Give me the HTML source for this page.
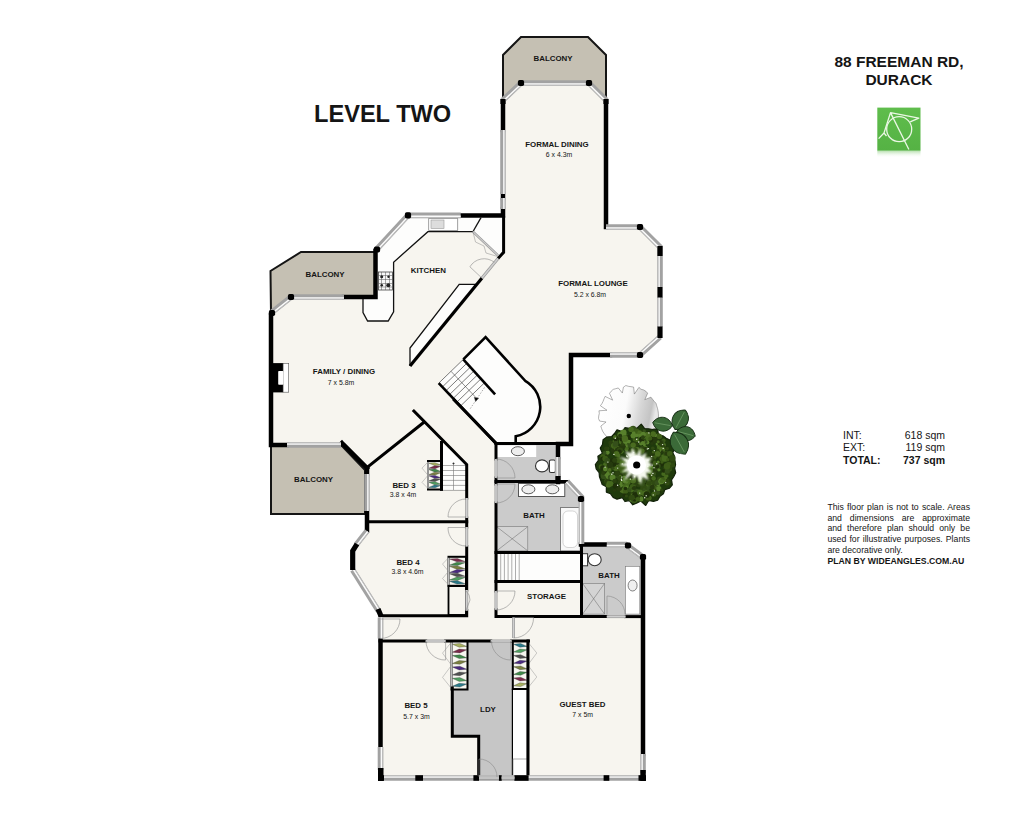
<!DOCTYPE html>
<html><head><meta charset="utf-8">
<style>
html,body{margin:0;padding:0;background:#fff;width:1024px;height:819px;overflow:hidden}
svg{position:absolute;left:0;top:0}
text{font-family:"Liberation Sans",sans-serif;fill:#151515}
.b{font-weight:bold}
</style></head><body>
<svg width="1024" height="819" viewBox="0 0 1024 819">
<polygon fill="#f7f5ef" points="503,100 521,83 589,83 606,100 606,227 640,227 660,247 660,337 640,355 571,355 571,444 558,444 558,482 567,482 581,497 581,544 626,544 643,557 643,778 380,778 380,615 356,570 356,546 367,530 367,468 342,444 271,444 271,313 291,297 375,297 375,250 408,215 503,215"/>
<g fill="#fdfdfc">
<polygon points="408,215.4 503.4,215.4 503.4,252.3 498,255.4 472.9,231.7 427.9,231.7 393.6,262.2 393.6,311.8 388.2,321 367.6,321 363,312.6 363,298.9 375.5,298.9 375.5,249.3"/>
<polygon points="459.2,284.4 476,284.4 410,366 410,348"/>
<path d="M463.3,359.4 L485.6,337.1 L525.2,380.8 A30,30 0 0 1 515.7,436.3 L515.7,443.5 L495.9,443.5 L438.7,383.2 Z"/>
<rect x="497" y="553" width="84" height="28"/>
<polygon points="441.5,442.5 466.7,464.5 466.7,490 441.5,490"/>
<rect x="497" y="553" width="26" height="28"/>
</g>
<g fill="#cbcbcb">
<rect x="496" y="444" width="62" height="38"/>
<polygon points="496,482 568,482 582,497 582,552 496,552"/>
<polygon points="581,544 626,544 643,557 643,615 581,615"/>
<polygon fill="#c6c6c6" points="452.3,641 512.4,641 512.4,777.3 478.7,777.3 478.7,736.2 452.3,736.2"/>
</g>
<g fill="#c5c0b3" stroke="#151515" stroke-width="2" stroke-linejoin="miter">
<polygon points="503,101 503,55 521,37 588,37 606,55 606,101 589,83 521,83"/>
<polygon points="271,313 270.5,271 301,252 375,252 375,297 291,297"/>
<polygon points="271,446 342,446 365,470 365,514 271,514"/>
</g>
<g stroke="#111" stroke-width="1.3" fill="none">
<polyline points="472.9,231.7 427.9,231.7 393.6,262.2 393.6,311.8 388.2,321 367.6,321 363,312.6 363,298.9"/>
<polyline points="472.9,231.7 481,217.6"/>
<polyline points="476,284.4 459.2,284.4 410,348 410,366"/>
</g>
<polyline points="472.9,231.7 498,255.4" stroke="#9a9a9a" stroke-width="2.5" fill="none"/><polyline points="472.9,231.7 498,255.4" stroke="#cfcfcf" stroke-width="1.1" fill="none"/>
<polyline points="473,232 475.5,242 484,246 486,253 497.6,256.5" stroke="#8a8a8a" stroke-width="0.5" fill="none"/>
<rect x="378.5" y="272" width="14" height="18" fill="#f8f8f8" stroke="#444" stroke-width="0.8"/>
<g stroke="#555" stroke-width="0.5"><line x1="381.5" y1="272" x2="381.5" y2="290"/><line x1="385.5" y1="272" x2="385.5" y2="290"/><line x1="389.5" y1="272" x2="389.5" y2="290"/><line x1="378.5" y1="275.5" x2="392.5" y2="275.5"/><line x1="378.5" y1="279.5" x2="392.5" y2="279.5"/><line x1="378.5" y1="283.5" x2="392.5" y2="283.5"/><line x1="378.5" y1="287" x2="392.5" y2="287"/></g>
<g fill="#222"><circle cx="381.7" cy="276.8" r="1.5"/><circle cx="388.5" cy="276.8" r="1.2"/><circle cx="381.7" cy="285.2" r="1.3"/><circle cx="388.3" cy="285.2" r="2"/></g>
<rect x="428.7" y="218.4" width="29" height="12" fill="#fff" stroke="#888" stroke-width="0.8"/>
<rect x="431" y="220" width="13" height="8.5" fill="#ddd" stroke="#999" stroke-width="0.6"/>
<g stroke="#555" stroke-width="0.6" fill="none">
<line x1="438.7" y1="383.2" x2="463.3" y2="359.4" stroke="#444" stroke-width="0.7"/>
<line x1="442.3" y1="387.0" x2="466.9" y2="363.2" stroke="#444" stroke-width="0.7"/>
<line x1="445.9" y1="390.8" x2="470.5" y2="367.0" stroke="#444" stroke-width="0.7"/>
<line x1="449.5" y1="394.6" x2="474.1" y2="370.8" stroke="#444" stroke-width="0.7"/>
<line x1="453.2" y1="398.4" x2="477.8" y2="374.6" stroke="#444" stroke-width="0.7"/>
<line x1="456.8" y1="402.2" x2="481.4" y2="378.4" stroke="#444" stroke-width="0.7"/>
<line x1="460.4" y1="406.1" x2="485.0" y2="382.3" stroke="#444" stroke-width="0.7"/>
<line x1="451.0" y1="371.3" x2="475.1" y2="396.7" stroke="#444"/>
<path d="M484.5,387.5 L470,409" stroke="#555" stroke-width="0.5" stroke-dasharray="1.5,1.5" fill="none"/>
<polygon points="474.3,397.2 478.6,398.2 475.6,401.5" fill="#000"/>
</g>
<g stroke="#333" stroke-width="0.8">
<rect x="496.6" y="445.3" width="39.6" height="11.7" fill="#fff" stroke="none"/>
<ellipse cx="517.9" cy="451.2" rx="6.5" ry="4.5" fill="#eee"/>
<ellipse cx="542" cy="465.9" rx="6.5" ry="6" fill="#fff" stroke-width="1.1"/>
<rect x="549.4" y="460" width="6" height="12.5" rx="1.5" fill="#fff" stroke-width="1.1"/>
<rect x="518.6" y="483.5" width="46.2" height="12.9" fill="#fff"/>
<ellipse cx="528.4" cy="489.3" rx="6.5" ry="4.5" fill="#eee"/>
<ellipse cx="552.3" cy="489.3" rx="6.5" ry="4.5" fill="#eee"/>
<rect x="560.4" y="507.6" width="19.8" height="43.3" fill="#f8f8f8" stroke="#666"/>
<rect x="563" y="511" width="14.5" height="36.5" rx="5" fill="#fff" stroke="#bbb" stroke-width="0.6"/>
<rect x="496.6" y="526.7" width="31.2" height="24.2" fill="#d4d4d4" stroke="#777" stroke-width="0.6"/>
<path d="M496.6,526.7 L527.8,550.9 M527.8,526.7 L496.6,550.9" stroke="#666" stroke-width="0.5"/>
<rect x="582" y="553.7" width="5.6" height="12.1" fill="#fff" stroke-width="1"/>
<ellipse cx="594.7" cy="559.7" rx="6.5" ry="6" fill="#fff" stroke-width="1.1"/>
<rect x="582.6" y="583.4" width="22" height="30.7" fill="#d4d4d4" stroke="#777" stroke-width="0.6"/>
<path d="M582.6,583.4 L604.6,614.1 M604.6,583.4 L582.6,614.1" stroke="#666" stroke-width="0.5"/>
<rect x="625.5" y="566.3" width="14.3" height="47.8" fill="#fff" stroke="#777" stroke-width="0.6"/>
<ellipse cx="632.6" cy="585.5" rx="4.5" ry="5.5" fill="#f0f0f0" stroke-width="0.6"/>
</g>
<g stroke="#777" stroke-width="0.6">
<line x1="497.0" y1="553.3" x2="497.0" y2="580.7"/>
<line x1="500.7" y1="553.3" x2="500.7" y2="580.7"/>
<line x1="504.4" y1="553.3" x2="504.4" y2="580.7"/>
<line x1="508.1" y1="553.3" x2="508.1" y2="580.7"/>
<line x1="511.8" y1="553.3" x2="511.8" y2="580.7"/>
<line x1="515.5" y1="553.3" x2="515.5" y2="580.7"/>
<line x1="519.2" y1="553.3" x2="519.2" y2="580.7"/>
</g>
<g stroke="#777" stroke-width="0.6">
<line x1="442.5" y1="465.5" x2="466" y2="465.5"/>
<line x1="442.5" y1="470.5" x2="466" y2="470.5"/>
<line x1="442.5" y1="475.5" x2="466" y2="475.5"/>
<line x1="442.5" y1="480.4" x2="466" y2="480.4"/>
<line x1="442.5" y1="485.4" x2="466" y2="485.4"/>
<line x1="442.5" y1="490.4" x2="466" y2="490.4"/>
<line x1="453.5" y1="463" x2="453.5" y2="490"/>
<circle cx="453.5" cy="463.5" r="0.8" fill="#000"/>
</g>
<rect x="428" y="461" width="13.5" height="28.5" fill="#f7f7f0"/><polygon points="428.5,464.1 434.8,462.7 441.0,464.1 434.8,465.5" fill="#a8b060" stroke="#333" stroke-width="0.3" transform="rotate(9 434.8 464.1)"/><polygon points="428.5,467.3 434.8,465.8 441.0,467.3 434.8,468.7" fill="#7a2a4a" stroke="#333" stroke-width="0.3" transform="rotate(-9 434.8 467.3)"/><polygon points="428.5,470.5 434.8,469.0 441.0,470.5 434.8,471.9" fill="#3f8a4a" stroke="#333" stroke-width="0.3" transform="rotate(9 434.8 470.5)"/><polygon points="428.5,473.7 434.8,472.2 441.0,473.7 434.8,475.1" fill="#7a8040" stroke="#333" stroke-width="0.3" transform="rotate(-9 434.8 473.7)"/><polygon points="428.5,476.8 434.8,475.4 441.0,476.8 434.8,478.3" fill="#4a2a80" stroke="#333" stroke-width="0.3" transform="rotate(9 434.8 476.8)"/><polygon points="428.5,480.0 434.8,478.6 441.0,480.0 434.8,481.5" fill="#505050" stroke="#333" stroke-width="0.3" transform="rotate(-9 434.8 480.0)"/><polygon points="428.5,483.2 434.8,481.8 441.0,483.2 434.8,484.7" fill="#50a060" stroke="#333" stroke-width="0.3" transform="rotate(9 434.8 483.2)"/><polygon points="428.5,486.4 434.8,485.0 441.0,486.4 434.8,487.8" fill="#2a7a8a" stroke="#333" stroke-width="0.3" transform="rotate(-9 434.8 486.4)"/><rect x="428" y="461" width="13.5" height="28.5" fill="none" stroke="#000" stroke-width="2"/><line x1="428" y1="462" x2="428" y2="488.5" stroke="#bbb" stroke-width="1.6"/>
<rect x="448.5" y="556.8" width="17.5" height="29" fill="#f7f7f0"/><polygon points="449.2,560.2 457.2,558.5 465.3,560.2 457.2,561.8" fill="#7a2a4a" stroke="#333" stroke-width="0.3" transform="rotate(9 457.2 560.2)"/><polygon points="449.2,563.9 457.2,562.2 465.3,563.9 457.2,565.5" fill="#3f8a4a" stroke="#333" stroke-width="0.3" transform="rotate(-9 457.2 563.9)"/><polygon points="449.2,567.6 457.2,565.9 465.3,567.6 457.2,569.3" fill="#7a8040" stroke="#333" stroke-width="0.3" transform="rotate(9 457.2 567.6)"/><polygon points="449.2,571.3 457.2,569.6 465.3,571.3 457.2,573.0" fill="#4a2a80" stroke="#333" stroke-width="0.3" transform="rotate(-9 457.2 571.3)"/><polygon points="449.2,575.0 457.2,573.3 465.3,575.0 457.2,576.7" fill="#505050" stroke="#333" stroke-width="0.3" transform="rotate(9 457.2 575.0)"/><polygon points="449.2,578.7 457.2,577.1 465.3,578.7 457.2,580.4" fill="#50a060" stroke="#333" stroke-width="0.3" transform="rotate(-9 457.2 578.7)"/><polygon points="449.2,582.4 457.2,580.8 465.3,582.4 457.2,584.1" fill="#2a7a8a" stroke="#333" stroke-width="0.3" transform="rotate(9 457.2 582.4)"/><rect x="448.5" y="556.8" width="17.5" height="29" fill="none" stroke="#000" stroke-width="2"/><line x1="448.5" y1="557.8" x2="448.5" y2="584.8" stroke="#bbb" stroke-width="1.6"/>
<rect x="451.5" y="641" width="16" height="48.5" fill="#f7f7f0"/><polygon points="452.1,645.3 459.5,643.4 466.9,645.3 459.5,647.2" fill="#a8b060" stroke="#333" stroke-width="0.3" transform="rotate(9 459.5 645.3)"/><polygon points="452.1,651.0 459.5,649.1 466.9,651.0 459.5,652.9" fill="#7a2a4a" stroke="#333" stroke-width="0.3" transform="rotate(-9 459.5 651.0)"/><polygon points="452.1,656.7 459.5,654.8 466.9,656.7 459.5,658.6" fill="#3f8a4a" stroke="#333" stroke-width="0.3" transform="rotate(9 459.5 656.7)"/><polygon points="452.1,662.4 459.5,660.5 466.9,662.4 459.5,664.3" fill="#7a8040" stroke="#333" stroke-width="0.3" transform="rotate(-9 459.5 662.4)"/><polygon points="452.1,668.1 459.5,666.2 466.9,668.1 459.5,670.0" fill="#4a2a80" stroke="#333" stroke-width="0.3" transform="rotate(9 459.5 668.1)"/><polygon points="452.1,673.8 459.5,671.9 466.9,673.8 459.5,675.7" fill="#505050" stroke="#333" stroke-width="0.3" transform="rotate(-9 459.5 673.8)"/><polygon points="452.1,679.5 459.5,677.6 466.9,679.5 459.5,681.4" fill="#50a060" stroke="#333" stroke-width="0.3" transform="rotate(9 459.5 679.5)"/><polygon points="452.1,685.2 459.5,683.3 466.9,685.2 459.5,687.1" fill="#2a7a8a" stroke="#333" stroke-width="0.3" transform="rotate(-9 459.5 685.2)"/><rect x="451.5" y="641" width="16" height="48.5" fill="none" stroke="#000" stroke-width="2"/><line x1="451.5" y1="642" x2="451.5" y2="688.5" stroke="#bbb" stroke-width="1.6"/>
<rect x="512.8" y="641" width="15" height="48" fill="#f7f7f0"/><polygon points="513.4,645.3 520.3,643.4 527.2,645.3 520.3,647.2" fill="#2a7a8a" stroke="#333" stroke-width="0.3" transform="rotate(9 520.3 645.3)"/><polygon points="513.4,650.9 520.3,649.0 527.2,650.9 520.3,652.8" fill="#50a060" stroke="#333" stroke-width="0.3" transform="rotate(-9 520.3 650.9)"/><polygon points="513.4,656.6 520.3,654.7 527.2,656.6 520.3,658.5" fill="#505050" stroke="#333" stroke-width="0.3" transform="rotate(9 520.3 656.6)"/><polygon points="513.4,662.2 520.3,660.3 527.2,662.2 520.3,664.1" fill="#4a2a80" stroke="#333" stroke-width="0.3" transform="rotate(-9 520.3 662.2)"/><polygon points="513.4,667.8 520.3,665.9 527.2,667.8 520.3,669.7" fill="#7a8040" stroke="#333" stroke-width="0.3" transform="rotate(9 520.3 667.8)"/><polygon points="513.4,673.4 520.3,671.5 527.2,673.4 520.3,675.3" fill="#3f8a4a" stroke="#333" stroke-width="0.3" transform="rotate(-9 520.3 673.4)"/><polygon points="513.4,679.1 520.3,677.2 527.2,679.1 520.3,681.0" fill="#7a2a4a" stroke="#333" stroke-width="0.3" transform="rotate(9 520.3 679.1)"/><polygon points="513.4,684.7 520.3,682.8 527.2,684.7 520.3,686.6" fill="#a8b060" stroke="#333" stroke-width="0.3" transform="rotate(-9 520.3 684.7)"/><rect x="512.8" y="641" width="15" height="48" fill="none" stroke="#000" stroke-width="2"/><line x1="527.8" y1="642" x2="527.8" y2="688" stroke="#bbb" stroke-width="1.6"/>
<polyline points="451.5,642 442.5,653.125 451.5,665.25" stroke="#999" stroke-width="0.5" fill="none"/><polyline points="451.5,665.25 442.5,677.375 451.5,688.5" stroke="#999" stroke-width="0.5" fill="none"/>
<polyline points="527.8,642 536.8,653.0 527.8,665.0" stroke="#999" stroke-width="0.5" fill="none"/><polyline points="527.8,665.0 536.8,677.0 527.8,688" stroke="#999" stroke-width="0.5" fill="none"/>
<polyline points="428,462 422,468.125 428,475.25" stroke="#999" stroke-width="0.5" fill="none"/><polyline points="428,475.25 422,482.375 428,488.5" stroke="#999" stroke-width="0.5" fill="none"/>
<polyline points="448.5,557.8 442.5,564.05 448.5,571.3" stroke="#999" stroke-width="0.5" fill="none"/><polyline points="448.5,571.3 442.5,578.55 448.5,584.8" stroke="#999" stroke-width="0.5" fill="none"/>
<rect x="448.5" y="586" width="17.5" height="29" fill="none" stroke="#000" stroke-width="1.8"/>
<rect x="512.4" y="689.4" width="15" height="88" fill="#fff" stroke="#000" stroke-width="1.2"/>
<rect x="513" y="759" width="14" height="17" fill="#fff" stroke="#777" stroke-width="0.6"/>
<rect x="272.5" y="363.1" width="10.8" height="29.3" fill="#000"/>
<rect x="283.1" y="363.4" width="5.6" height="28.8" fill="#fff" stroke="#555" stroke-width="0.6"/>
<rect x="278.2" y="371" width="5.2" height="13.8" rx="0.8" fill="#fff"/>
<polyline points="369,466 423.4,422.7" stroke="#000" stroke-width="3" fill="none" stroke-linecap="square" stroke-linejoin="miter"/>
<polyline points="413.9,411 466.7,464.5 466.7,498" stroke="#000" stroke-width="3" fill="none" stroke-linecap="square" stroke-linejoin="miter"/>
<polyline points="466.7,518 466.7,527" stroke="#000" stroke-width="3" fill="none" stroke-linecap="square" stroke-linejoin="miter"/>
<polyline points="466.7,546.5 466.7,590" stroke="#000" stroke-width="3" fill="none" stroke-linecap="square" stroke-linejoin="miter"/>
<polyline points="466.7,610.6 466.7,615.7 380,615.7" stroke="#000" stroke-width="3" fill="none" stroke-linecap="square" stroke-linejoin="miter"/>
<polyline points="369,521.7 466.7,521.7" stroke="#000" stroke-width="3" fill="none" stroke-linecap="square" stroke-linejoin="miter"/>
<polyline points="441.5,442.5 441.5,489.4" stroke="#000" stroke-width="3" fill="none" stroke-linecap="square" stroke-linejoin="miter"/>
<polyline points="454.2,400 496,443.2 496,459" stroke="#000" stroke-width="3" fill="none" stroke-linecap="square" stroke-linejoin="miter"/>
<polyline points="496,478 496,484" stroke="#000" stroke-width="3" fill="none" stroke-linecap="square" stroke-linejoin="miter"/>
<polyline points="496,503 496,591" stroke="#000" stroke-width="3" fill="none" stroke-linecap="square" stroke-linejoin="miter"/>
<polyline points="496,609.7 496,616.6 606.8,616.6" stroke="#000" stroke-width="3" fill="none" stroke-linecap="square" stroke-linejoin="miter"/>
<polyline points="625.5,616.6 643,616.6" stroke="#000" stroke-width="3" fill="none" stroke-linecap="square" stroke-linejoin="miter"/>
<polyline points="496,443.5 558,443.5" stroke="#000" stroke-width="3" fill="none" stroke-linecap="square" stroke-linejoin="miter"/>
<polyline points="496,481.5 567,481.5" stroke="#000" stroke-width="3" fill="none" stroke-linecap="square" stroke-linejoin="miter"/>
<polyline points="496,552.5 581,552.5" stroke="#000" stroke-width="3" fill="none" stroke-linecap="square" stroke-linejoin="miter"/>
<polyline points="496,581.5 581,581.5" stroke="#000" stroke-width="3" fill="none" stroke-linecap="square" stroke-linejoin="miter"/>
<polyline points="581.5,544 581.5,616" stroke="#000" stroke-width="3" fill="none" stroke-linecap="square" stroke-linejoin="miter"/>
<polyline points="380,641 425.7,641" stroke="#000" stroke-width="3" fill="none" stroke-linecap="square" stroke-linejoin="miter"/>
<polyline points="445.6,641 490.7,641" stroke="#000" stroke-width="3" fill="none" stroke-linecap="square" stroke-linejoin="miter"/>
<polyline points="511.6,641 528.5,641" stroke="#000" stroke-width="3" fill="none" stroke-linecap="square" stroke-linejoin="miter"/>
<polyline points="528,641 528,778" stroke="#000" stroke-width="3" fill="none" stroke-linecap="square" stroke-linejoin="miter"/>
<polyline points="452.3,688 452.3,736.2 478.7,736.2 478.7,777" stroke="#000" stroke-width="3" fill="none" stroke-linecap="square" stroke-linejoin="miter"/>
<path d="M463.3,359.4 L485.6,337.1 L525.2,380.8 A30,30 0 0 1 515.7,436.3 L515.7,443.5" stroke="#000" stroke-width="2.6" fill="none"/>
<polyline points="463.3,359.4 495.1,394.3" stroke="#000" stroke-width="2.6" fill="none" stroke-linecap="butt" stroke-linejoin="miter"/>
<polyline points="438.7,383.2 495.9,443.5" stroke="#000" stroke-width="2.6" fill="none" stroke-linecap="butt" stroke-linejoin="miter"/>
<polyline points="503,101 503,130" stroke="#000" stroke-width="4.5" fill="none" stroke-linecap="square" stroke-linejoin="miter"/>
<polyline points="503,194 503,198" stroke="#000" stroke-width="4.5" fill="none" stroke-linecap="square" stroke-linejoin="miter"/>
<polyline points="503,209 503,215.4 460.7,215.4" stroke="#000" stroke-width="4.5" fill="none" stroke-linecap="square" stroke-linejoin="miter"/>
<polyline points="606,101 606,227" stroke="#000" stroke-width="4.5" fill="none" stroke-linecap="square" stroke-linejoin="miter"/>
<polyline points="610,355 571,355 571,444 558,444 558,457" stroke="#000" stroke-width="4.5" fill="none" stroke-linecap="square" stroke-linejoin="miter"/>
<polyline points="558,476 558,482" stroke="#000" stroke-width="4.5" fill="none" stroke-linecap="square" stroke-linejoin="miter"/>
<polyline points="375.5,251 375.5,297 344,297" stroke="#000" stroke-width="4.5" fill="none" stroke-linecap="square" stroke-linejoin="miter"/>
<polyline points="271,315 271,445 287,445" stroke="#000" stroke-width="4.5" fill="none" stroke-linecap="square" stroke-linejoin="miter"/>
<polyline points="342,443 367,468" stroke="#000" stroke-width="4.5" fill="none" stroke-linecap="square" stroke-linejoin="miter"/>
<polyline points="367,470 367,474" stroke="#000" stroke-width="4.5" fill="none" stroke-linecap="square" stroke-linejoin="miter"/>
<polyline points="367,511 367,530.5" stroke="#000" stroke-width="4.5" fill="none" stroke-linecap="square" stroke-linejoin="miter"/>
<polyline points="643,557 643,754" stroke="#000" stroke-width="4.5" fill="none" stroke-linecap="square" stroke-linejoin="miter"/>
<polyline points="581,544.5 606.8,544.5" stroke="#000" stroke-width="4.5" fill="none" stroke-linecap="square" stroke-linejoin="miter"/>
<polyline points="380.5,640 380.5,747" stroke="#000" stroke-width="4.5" fill="none" stroke-linecap="square" stroke-linejoin="miter"/>
<polyline points="503.6,216 503.6,252.3 498,258.5" stroke="#000" stroke-width="3" fill="none" stroke-linecap="butt" stroke-linejoin="miter"/>
<polyline points="482,278 410,366" stroke="#000" stroke-width="3.2" fill="none" stroke-linecap="butt" stroke-linejoin="miter"/>
<polyline points="503,100 521,83 589,83 606,100" stroke="#a2a2a2" stroke-width="5.6" fill="none"/><polyline points="503.62,100.65 521.36,83.9 588.63,83.9 605.36,100.64" stroke="#fbfbfb" stroke-width="1.5" fill="none"/><polyline points="504.51,101.6 521.87,85.2 588.09,85.2 604.44,101.56" stroke="#c4c4c4" stroke-width="0.8" fill="none"/>
<polyline points="503,130 503,194" stroke="#a2a2a2" stroke-width="5.6" fill="none"/><polyline points="503.9,130.0 503.9,194.0" stroke="#fbfbfb" stroke-width="1.5" fill="none"/><polyline points="505.2,130.0 505.2,194.0" stroke="#c4c4c4" stroke-width="0.8" fill="none"/>
<polyline points="503,198 503,209" stroke="#a2a2a2" stroke-width="5.6" fill="none"/><polyline points="503.9,198.0 503.9,209.0" stroke="#fbfbfb" stroke-width="1.5" fill="none"/><polyline points="505.2,198.0 505.2,209.0" stroke="#c4c4c4" stroke-width="0.8" fill="none"/>
<polyline points="606,227 640,227 660,247 660,287" stroke="#a2a2a2" stroke-width="5.6" fill="none"/><polyline points="606.0,227.9 639.63,227.9 659.1,247.37 659.1,287.0" stroke="#fbfbfb" stroke-width="1.5" fill="none"/><polyline points="606.0,229.2 639.09,229.2 657.8,247.91 657.8,287.0" stroke="#c4c4c4" stroke-width="0.8" fill="none"/>
<polyline points="660,297 660,327" stroke="#a2a2a2" stroke-width="5.6" fill="none"/><polyline points="659.1,297.0 659.1,327.0" stroke="#fbfbfb" stroke-width="1.5" fill="none"/><polyline points="657.8,297.0 657.8,327.0" stroke="#c4c4c4" stroke-width="0.8" fill="none"/>
<polyline points="660,337 640,355 610,355" stroke="#a2a2a2" stroke-width="5.6" fill="none"/><polyline points="659.4,336.33 639.65,354.1 610.0,354.1" stroke="#fbfbfb" stroke-width="1.5" fill="none"/><polyline points="658.53,335.36 639.16,352.8 610.0,352.8" stroke="#c4c4c4" stroke-width="0.8" fill="none"/>
<polyline points="376,250 408,215.4 460.7,215.4" stroke="#a2a2a2" stroke-width="5.6" fill="none"/><polyline points="376.66,250.61 408.39,216.3 460.7,216.3" stroke="#fbfbfb" stroke-width="1.5" fill="none"/><polyline points="377.62,251.49 408.96,217.6 460.7,217.6" stroke="#c4c4c4" stroke-width="0.8" fill="none"/>
<polyline points="344,297 291,297 271,313" stroke="#a2a2a2" stroke-width="5.6" fill="none"/><polyline points="344.0,297.9 291.32,297.9 271.56,313.7" stroke="#fbfbfb" stroke-width="1.5" fill="none"/><polyline points="344.0,299.2 291.77,299.2 272.37,314.72" stroke="#c4c4c4" stroke-width="0.8" fill="none"/>
<polyline points="287,445 341,445" stroke="#a2a2a2" stroke-width="5.6" fill="none"/><polyline points="287.0,444.1 341.0,444.1" stroke="#fbfbfb" stroke-width="1.5" fill="none"/><polyline points="287.0,442.8 341.0,442.8" stroke="#c4c4c4" stroke-width="0.8" fill="none"/>
<polyline points="367,474 367,511" stroke="#a2a2a2" stroke-width="5.6" fill="none"/><polyline points="367.9,474.0 367.9,511.0" stroke="#fbfbfb" stroke-width="1.5" fill="none"/><polyline points="369.2,474.0 369.2,511.0" stroke="#c4c4c4" stroke-width="0.8" fill="none"/>
<polyline points="367,531 356,545" stroke="#a2a2a2" stroke-width="5.6" fill="none"/><polyline points="367.71,531.56 356.71,545.56" stroke="#fbfbfb" stroke-width="1.5" fill="none"/><polyline points="368.73,532.36 357.73,546.36" stroke="#c4c4c4" stroke-width="0.8" fill="none"/>
<polyline points="352.7,570 378.5,611" stroke="#a2a2a2" stroke-width="5.6" fill="none"/><polyline points="353.46,569.52 379.26,610.52" stroke="#fbfbfb" stroke-width="1.5" fill="none"/><polyline points="354.56,568.83 380.36,609.83" stroke="#c4c4c4" stroke-width="0.8" fill="none"/>
<polyline points="380.5,617.5 380.5,638.5" stroke="#a2a2a2" stroke-width="5.6" fill="none"/><polyline points="381.4,617.5 381.4,638.5" stroke="#fbfbfb" stroke-width="1.5" fill="none"/><polyline points="382.7,617.5 382.7,638.5" stroke="#c4c4c4" stroke-width="0.8" fill="none"/>
<polyline points="380.5,747 380.5,770" stroke="#a2a2a2" stroke-width="5.6" fill="none"/><polyline points="381.4,747.0 381.4,770.0" stroke="#fbfbfb" stroke-width="1.5" fill="none"/><polyline points="382.7,747.0 382.7,770.0" stroke="#c4c4c4" stroke-width="0.8" fill="none"/>
<polyline points="643,754 643,773" stroke="#a2a2a2" stroke-width="5.6" fill="none"/><polyline points="642.1,754.0 642.1,773.0" stroke="#fbfbfb" stroke-width="1.5" fill="none"/><polyline points="640.8,754.0 640.8,773.0" stroke="#c4c4c4" stroke-width="0.8" fill="none"/>
<polyline points="383,778 641,778" stroke="#a2a2a2" stroke-width="5.6" fill="none"/><polyline points="383.0,777.1 641.0,777.1" stroke="#fbfbfb" stroke-width="1.5" fill="none"/><polyline points="383.0,775.8 641.0,775.8" stroke="#c4c4c4" stroke-width="0.8" fill="none"/>
<polyline points="606.8,544.5 626,544.5 643,557" stroke="#a2a2a2" stroke-width="5.6" fill="none"/><polyline points="606.8,545.4 625.7,545.4 642.47,557.73" stroke="#fbfbfb" stroke-width="1.5" fill="none"/><polyline points="606.8,546.7 625.28,546.7 641.7,558.77" stroke="#c4c4c4" stroke-width="0.8" fill="none"/>
<polyline points="567,481.5 581.5,497 581.5,544" stroke="#a2a2a2" stroke-width="5.6" fill="none"/><polyline points="566.34,482.11 580.6,497.36 580.6,544.0" stroke="#fbfbfb" stroke-width="1.5" fill="none"/><polyline points="565.39,483.0 579.3,497.87 579.3,544.0" stroke="#c4c4c4" stroke-width="0.8" fill="none"/>
<polyline points="558,457 558,477" stroke="#a2a2a2" stroke-width="5.6" fill="none"/><polyline points="557.1,457.0 557.1,477.0" stroke="#fbfbfb" stroke-width="1.5" fill="none"/><polyline points="555.8,457.0 555.8,477.0" stroke="#c4c4c4" stroke-width="0.8" fill="none"/>
<rect x="517.9" y="79.9" width="6.2" height="6.2" rx="1.8" fill="#000"/>
<rect x="585.9" y="79.9" width="6.2" height="6.2" rx="1.8" fill="#000"/>
<rect x="636.9" y="223.9" width="6.2" height="6.2" rx="1.8" fill="#000"/>
<rect x="636.9" y="351.9" width="6.2" height="6.2" rx="1.8" fill="#000"/>
<rect x="404.9" y="212.3" width="6.2" height="6.2" rx="1.8" fill="#000"/>
<rect x="373.9" y="246.4" width="6.2" height="6.2" rx="1.8" fill="#000"/>
<rect x="287.9" y="293.9" width="6.2" height="6.2" rx="1.8" fill="#000"/>
<rect x="268.9" y="309.9" width="6.2" height="6.2" rx="1.8" fill="#000"/>
<rect x="624.9" y="542.4" width="6.2" height="6.2" rx="1.8" fill="#000"/>
<rect x="577.9" y="495.9" width="6.2" height="6.2" rx="1.8" fill="#000"/>
<rect x="639.9" y="553.9" width="6.2" height="6.2" rx="1.8" fill="#000"/>
<polyline points="503,99 503,104" stroke="#000" stroke-width="5.2" fill="none" stroke-linecap="butt" stroke-linejoin="miter"/>
<polyline points="606,99 606,104" stroke="#000" stroke-width="5.2" fill="none" stroke-linecap="butt" stroke-linejoin="miter"/>
<polyline points="660,246 660,256" stroke="#000" stroke-width="5.2" fill="none" stroke-linecap="butt" stroke-linejoin="miter"/>
<polyline points="660,287 660,297.5" stroke="#000" stroke-width="5.2" fill="none" stroke-linecap="butt" stroke-linejoin="miter"/>
<polyline points="660,326.5 660,338" stroke="#000" stroke-width="5.2" fill="none" stroke-linecap="butt" stroke-linejoin="miter"/>
<polyline points="558,476 558,482.5" stroke="#000" stroke-width="5.2" fill="none" stroke-linecap="butt" stroke-linejoin="miter"/>
<polyline points="357,544 352.7,551 352.7,570" stroke="#000" stroke-width="5.2" fill="none" stroke-linecap="butt" stroke-linejoin="miter"/>
<polyline points="378,609 381,616" stroke="#000" stroke-width="5.2" fill="none" stroke-linecap="butt" stroke-linejoin="miter"/>
<rect x="378" y="775.2" width="6" height="5.6" fill="#000"/>
<rect x="415.3" y="775.2" width="7.699999999999989" height="5.6" fill="#000"/>
<rect x="473.4" y="775.2" width="5.600000000000023" height="5.6" fill="#000"/>
<rect x="498.9" y="775.2" width="2.8000000000000114" height="5.6" fill="#000"/>
<rect x="514.4" y="775.2" width="14.200000000000045" height="5.6" fill="#000"/>
<rect x="603.6" y="775.2" width="5.699999999999932" height="5.6" fill="#000"/>
<rect x="638.5" y="775.2" width="7.5" height="5.6" fill="#000"/>
<rect x="378" y="768" width="5.5" height="13" fill="#000"/>
<rect x="640.3" y="770" width="5.5" height="11" fill="#000"/>
<polyline points="498,258.5 482,278" stroke="#9a9a9a" stroke-width="3" fill="none"/><polyline points="498,258.5 482,278" stroke="#cfcfcf" stroke-width="1.6" fill="none"/>
<polyline points="466.7,498 466.7,518" stroke="#9a9a9a" stroke-width="3" fill="none"/><polyline points="466.7,498 466.7,518" stroke="#cfcfcf" stroke-width="1.6" fill="none"/>
<polyline points="466.7,527 466.7,546.5" stroke="#9a9a9a" stroke-width="3" fill="none"/><polyline points="466.7,527 466.7,546.5" stroke="#cfcfcf" stroke-width="1.6" fill="none"/>
<polyline points="466.7,590 466.7,610.6" stroke="#9a9a9a" stroke-width="3" fill="none"/><polyline points="466.7,590 466.7,610.6" stroke="#cfcfcf" stroke-width="1.6" fill="none"/>
<polyline points="496,459 496,478" stroke="#9a9a9a" stroke-width="3" fill="none"/><polyline points="496,459 496,478" stroke="#cfcfcf" stroke-width="1.6" fill="none"/>
<polyline points="496,591 496,609.7" stroke="#9a9a9a" stroke-width="3" fill="none"/><polyline points="496,591 496,609.7" stroke="#cfcfcf" stroke-width="1.6" fill="none"/>
<polyline points="425.7,641 445.6,641" stroke="#9a9a9a" stroke-width="3" fill="none"/><polyline points="425.7,641 445.6,641" stroke="#cfcfcf" stroke-width="1.6" fill="none"/>
<polyline points="490.7,641 511.6,641" stroke="#9a9a9a" stroke-width="3" fill="none"/><polyline points="490.7,641 511.6,641" stroke="#cfcfcf" stroke-width="1.6" fill="none"/>
<polyline points="513.5,617.4 513.5,638" stroke="#9a9a9a" stroke-width="3" fill="none"/><polyline points="513.5,617.4 513.5,638" stroke="#cfcfcf" stroke-width="1.6" fill="none"/>
<polyline points="606.8,616.6 625.5,616.6" stroke="#9a9a9a" stroke-width="3" fill="none"/><polyline points="606.8,616.6 625.5,616.6" stroke="#cfcfcf" stroke-width="1.6" fill="none"/>
<polyline points="479,778 498.9,778" stroke="#9a9a9a" stroke-width="3" fill="none"/><polyline points="479,778 498.9,778" stroke="#cfcfcf" stroke-width="1.6" fill="none"/>
<polyline points="501.7,778 514.4,778" stroke="#9a9a9a" stroke-width="3" fill="none"/><polyline points="501.7,778 514.4,778" stroke="#cfcfcf" stroke-width="1.6" fill="none"/>
<polyline points="496,484 496,503" stroke="#9a9a9a" stroke-width="3" fill="none"/><polyline points="496,484 496,503" stroke="#cfcfcf" stroke-width="1.6" fill="none"/>
<line x1="466" y1="517" x2="448" y2="517" stroke="#8a8a8a" stroke-width="0.6"/><path d="M448,517 A18.00,18.00 0 0 1 466,499" stroke="#8a8a8a" stroke-width="0.6" fill="none"/>
<line x1="466" y1="527.5" x2="448" y2="527.5" stroke="#8a8a8a" stroke-width="0.6"/><path d="M448,527.5 A18.00,18.00 0 0 0 466,546" stroke="#8a8a8a" stroke-width="0.6" fill="none"/>
<line x1="496" y1="478" x2="515" y2="478" stroke="#8a8a8a" stroke-width="0.6"/><path d="M515,478 A19.00,19.00 0 0 0 496,459" stroke="#8a8a8a" stroke-width="0.6" fill="none"/>
<line x1="496" y1="484" x2="515" y2="484" stroke="#8a8a8a" stroke-width="0.6"/><path d="M515,484 A19.00,19.00 0 0 1 496,503" stroke="#8a8a8a" stroke-width="0.6" fill="none"/>
<line x1="496" y1="591" x2="515" y2="591" stroke="#8a8a8a" stroke-width="0.6"/><path d="M515,591 A19.00,19.00 0 0 1 496,610" stroke="#8a8a8a" stroke-width="0.6" fill="none"/>
<line x1="513.5" y1="617.5" x2="533.5" y2="617.5" stroke="#8a8a8a" stroke-width="0.6"/><path d="M533.5,617.5 A20.00,20.00 0 0 1 513.5,638" stroke="#8a8a8a" stroke-width="0.6" fill="none"/>
<line x1="445.6" y1="641" x2="445.6" y2="660" stroke="#8a8a8a" stroke-width="0.6"/><path d="M445.6,660 A19.00,19.00 0 0 1 426,641" stroke="#8a8a8a" stroke-width="0.6" fill="none"/>
<line x1="510.6" y1="641" x2="510.6" y2="660" stroke="#8a8a8a" stroke-width="0.6"/><path d="M510.6,660 A19.00,19.00 0 0 1 491.5,641" stroke="#8a8a8a" stroke-width="0.6" fill="none"/>
<line x1="380.5" y1="619" x2="400" y2="619" stroke="#8a8a8a" stroke-width="0.6"/><path d="M400,619 A19.50,19.50 0 0 1 380.5,638.5" stroke="#8a8a8a" stroke-width="0.6" fill="none"/>
<line x1="607" y1="614.5" x2="607" y2="596" stroke="#8a8a8a" stroke-width="0.6"/><path d="M607,596 A18.50,18.50 0 0 1 625,614.5" stroke="#8a8a8a" stroke-width="0.6" fill="none"/>
<line x1="479" y1="777" x2="479" y2="759" stroke="#8a8a8a" stroke-width="0.6"/><path d="M479,759 A18.00,18.00 0 0 1 497,777" stroke="#8a8a8a" stroke-width="0.6" fill="none"/>
<line x1="482" y1="278.2" x2="469.9" y2="266.8" stroke="#8a8a8a" stroke-width="0.6"/><path d="M469.9,266.8 A16.62,16.62 0 0 1 494.3,262.2" stroke="#8a8a8a" stroke-width="0.6" fill="none"/>
<line x1="466" y1="610.5" x2="470" y2="600" stroke="#8a8a8a" stroke-width="0.6"/><path d="M470,600 A11.24,11.24 0 0 0 466,591" stroke="#8a8a8a" stroke-width="0.6" fill="none"/>
<g font-size="7.9" class="b" text-anchor="middle">
<text x="553" y="61.3">BALCONY</text>
<text x="557" y="146.8">FORMAL DINING</text>
<text x="593" y="285.8">FORMAL LOUNGE</text>
<text x="428.4" y="273.3">KITCHEN</text>
<text x="325" y="277.3">BALCONY</text>
<text x="344" y="373.9">FAMILY / DINING</text>
<text x="313.5" y="481.9">BALCONY</text>
<text x="404" y="488.0">BED 3</text>
<text x="408" y="564.9">BED 4</text>
<text x="534" y="517.7">BATH</text>
<text x="546.5" y="599.0">STORAGE</text>
<text x="609" y="578.3">BATH</text>
<text x="416" y="708.3">BED 5</text>
<text x="488" y="711.5">LDY</text>
<text x="582.4" y="706.8">GUEST BED</text>
</g>
<g font-size="6.9" text-anchor="middle" fill="#222">
<text x="559" y="157.4">6 x 4.3m</text>
<text x="590" y="296.5">5.2 x 6.8m</text>
<text x="341" y="384.5">7 x 5.8m</text>
<text x="403" y="496.7">3.8 x 4m</text>
<text x="407.5" y="574">3.8 x 4.6m</text>
<text x="416.5" y="718.7">5.7 x 3m</text>
<text x="582.7" y="717.2">7 x 5m</text>
</g>
<g><defs><linearGradient id="wg" x1="0" y1="0" x2="1" y2="0.2"><stop offset="0" stop-color="#ffffff"/><stop offset="0.5" stop-color="#fbfbfb"/><stop offset="0.75" stop-color="#d6d6d6"/><stop offset="0.92" stop-color="#c4c4c4"/><stop offset="1" stop-color="#e8e8e8"/></linearGradient><radialGradient id="cg" cx="0.5" cy="0.5" r="0.5"><stop offset="0" stop-color="#ffffff"/><stop offset="0.55" stop-color="#f4f8ee"/><stop offset="1" stop-color="#f4f8ee" stop-opacity="0"/></radialGradient></defs><polygon points="658.5,416.0 658.3858409427523,418.61467228242975 658.0442325903663,421.2094453300079 657.477774788672,423.7645713530756 656.6907786235772,426.2606042997701 655.6892336110996,428.67854785222096 654.4807621135332,431.0 653.0745613286698,433.2072930905314 651.4813332935694,435.2836282905962 649.7132034355964,437.2132034355964 647.7836282905962,438.9813332935693 645.7072930905314,440.57456132866974 643.5,441.98076211353316 641.178547852221,443.1892336110995 638.7606042997701,444.1907786235773 636.2645713530757,444.97777478867204 633.709445330008,445.5442325903662 631.1146722824298,445.88584094275234 628.5,446.0 625.8853277175702,445.88584094275234 623.290554669992,445.5442325903662 620.7354286469243,444.97777478867204 618.2393957002299,444.1907786235773 615.821452147779,443.1892336110995 613.5,441.98076211353316 611.2927069094686,440.57456132866974 609.2163717094038,438.9813332935693 607.2867965644036,437.2132034355964 605.5186667064306,435.2836282905962 603.9254386713302,433.2072930905314 602.5192378864668,431.0 601.5662251681844,428.559425467098 600.8341725041099,426.06953771484746 606.050439586413,422.0153415832543 599.6294763053081,421.0906522745572 598.5569663173321,418.61967599880836 598.7148977329399,416.0 599.3186696615521,413.4469644087807 598.9440509813229,410.78848874756335 606.9984978166021,410.23868985390254 600.4089856346943,405.77570692068446 601.934515795566,403.61231127287675 603.086362571079,401.3274295893249 604.0243670881598,398.86197733267585 605.1180535003081,396.3802173159016 612.6621635276537,400.16216352765366 609.5010094124352,393.3578847116061 611.1757585997404,391.25841917590003 613.1418328460344,389.3988741781961 615.7693159651873,388.69895998452364 618.2959354744191,387.9645631293088 622.3499397359944,393.04766262512067 623.4165308159654,387.170213635998 625.8353395818903,385.5427920519078 628.5,386.3366251418693 631.0650639425278,386.68118497697947 633.6032538398514,387.05800927715677 634.3735283551089,394.07969375903735 638.9335988320184,387.3339228053811 640.962658472483,389.273742657813 643.56528013093,389.90616938297137 645.8347770784799,391.24337266805 647.6523942449938,393.1750653517479 644.8174726640384,399.68252733596165 650.9454563716621,397.1660258369326 652.4973555655903,399.1968707358749 654.0733265543972,401.23523302974456 655.9508302518609,403.19946763084437 656.6907786235772,405.7393957002299 657.477774788672,408.2354286469244 658.0442325903663,410.7905546699921 658.3858409427523,413.38532771757025" fill="url(#wg)" stroke="#666" stroke-width="0.5"/><circle cx="628.8" cy="416" r="2.2" fill="#000"/><polygon points="675.5655538340164,464.5 674.677345669104,468.4600486033917 675.6499092176443,472.71529181216096 673.824058312009,476.4648618408008 671.5307411451495,479.8740764827843 672.3046314037014,484.88313844456746 669.5176020526624,488.12542080001367 664.8416080703478,489.5686965062965 663.3948887422326,493.81449376464775 660.0124856395047,496.1739691793167 657.6254124867203,500.2242623540651 653.4226719207326,501.3859250597296 648.6584777735385,500.3811051121432 645.7075597284746,505.465847678664 640.8370720838285,501.0073022426674 637.0,503.0087369307114 632.7621186552975,504.8207476272506 629.3255829610841,500.6052934739779 624.9688007564862,501.5282238442379 622.261798680577,497.60254214462753 616.9953524303968,499.14906597806197 613.1433100405168,497.335916742519 610.6107230018182,493.80826129147493 606.3431454487194,492.1035558234237 606.35242578348,486.76676604850235 602.2102247618006,484.585886098821 600.8544601165331,480.59303120208324 599.4528867365674,476.69979663597707 599.1092694720563,472.55392340018506 596.1850136720004,468.7898279253834 595.3319134293524,464.5 598.368204704013,460.4396346984751 597.8888530557402,456.18666908255716 602.4157650866371,453.2629008975027 600.2672944270553,448.14554578993227 602.4605052985029,444.558613436417 603.0547992500623,439.8373680334908 606.5819313702101,437.1114479860079 611.768708685338,436.4778121006353 614.479155795486,433.502717203159 616.9940418523474,429.84866403416925 622.3024178315794,431.4886899622486 625.0193580643653,427.6273755499056 629.3055437949748,428.3004296617751 633.1635362616507,427.9984857779364 637.0,428.1462734840121 641.2448379599348,424.1130646000614 644.6461689349433,428.5276034065073 648.5837149475282,428.8489912066617 652.5966005699121,429.46946157208185 657.6142659223789,428.79504406170406 658.4444560852648,434.9842383499033 662.8920920567148,435.743918526703 666.2030942695332,438.2054158137013 670.412646966381,440.22429100569485 672.4340174504847,444.0421604864928 674.6233710017347,447.7489959920224 672.8267995927042,452.8591671593413 674.6506413778394,456.49710912405544 674.9436229093524,460.5119645309033" fill="#1f3a0c" stroke="#13220a" stroke-width="1.2" stroke-linejoin="round"/><circle cx="663.4" cy="441.0" r="1.8" fill="#4a6c20"/><circle cx="654.3" cy="488.8" r="1.5" fill="#4a6c20"/><circle cx="636.2" cy="474.9" r="2.2" fill="#35501a"/><circle cx="620.0" cy="450.5" r="1.7" fill="#466a1e"/><circle cx="665.3" cy="455.3" r="2.8" fill="#304a12"/><circle cx="663.0" cy="445.5" r="3.0" fill="#466a1e"/><circle cx="618.2" cy="479.6" r="1.7" fill="#263a0e"/><circle cx="649.5" cy="469.7" r="1.9" fill="#4a6c20"/><circle cx="659.1" cy="482.7" r="1.7" fill="#4a6c20"/><circle cx="602.8" cy="456.5" r="2.5" fill="#3d5c18"/><circle cx="657.4" cy="444.0" r="1.8" fill="#58802c"/><circle cx="664.6" cy="456.6" r="2.3" fill="#3d5c18"/><circle cx="657.9" cy="435.3" r="2.3" fill="#304a12"/><circle cx="630.7" cy="479.9" r="2.8" fill="#58802c"/><circle cx="606.8" cy="468.6" r="2.4" fill="#1f300a"/><circle cx="662.8" cy="456.3" r="1.7" fill="#466a1e"/><circle cx="664.2" cy="448.2" r="2.0" fill="#3d5c18"/><circle cx="630.2" cy="445.3" r="2.1" fill="#4a6c20"/><circle cx="625.2" cy="479.6" r="2.4" fill="#466a1e"/><circle cx="627.8" cy="481.4" r="2.9" fill="#1f300a"/><circle cx="648.3" cy="433.7" r="2.8" fill="#1f300a"/><circle cx="645.1" cy="489.5" r="2.7" fill="#2b4210"/><circle cx="643.4" cy="439.5" r="1.8" fill="#35501a"/><circle cx="604.0" cy="475.9" r="3.2" fill="#35501a"/><circle cx="650.1" cy="471.8" r="2.3" fill="#35501a"/><circle cx="645.2" cy="492.4" r="3.0" fill="#2b4210"/><circle cx="607.5" cy="468.3" r="2.9" fill="#3d5c18"/><circle cx="645.0" cy="451.0" r="2.2" fill="#1f300a"/><circle cx="619.4" cy="466.9" r="2.8" fill="#35501a"/><circle cx="667.0" cy="482.7" r="2.7" fill="#304a12"/><circle cx="608.4" cy="484.9" r="2.7" fill="#4a6c20"/><circle cx="648.7" cy="464.0" r="2.5" fill="#304a12"/><circle cx="642.8" cy="448.9" r="2.9" fill="#304a12"/><circle cx="624.4" cy="445.4" r="2.4" fill="#4a6c20"/><circle cx="669.2" cy="468.9" r="2.7" fill="#3d5c18"/><circle cx="602.6" cy="458.7" r="2.2" fill="#1f300a"/><circle cx="645.7" cy="447.8" r="1.9" fill="#58802c"/><circle cx="605.2" cy="464.3" r="2.1" fill="#466a1e"/><circle cx="622.9" cy="472.4" r="3.0" fill="#35501a"/><circle cx="660.9" cy="446.6" r="2.9" fill="#466a1e"/><circle cx="606.6" cy="481.1" r="2.4" fill="#466a1e"/><circle cx="652.4" cy="486.3" r="3.0" fill="#4a6c20"/><circle cx="612.1" cy="444.3" r="1.8" fill="#4a6c20"/><circle cx="606.3" cy="469.7" r="2.4" fill="#35501a"/><circle cx="625.8" cy="439.8" r="2.3" fill="#3d5c18"/><circle cx="646.7" cy="455.7" r="1.8" fill="#2b4210"/><circle cx="640.7" cy="438.1" r="2.5" fill="#3d5c18"/><circle cx="609.9" cy="474.6" r="2.4" fill="#466a1e"/><circle cx="643.5" cy="484.3" r="2.4" fill="#304a12"/><circle cx="617.0" cy="463.5" r="2.4" fill="#58802c"/><circle cx="667.2" cy="448.6" r="1.8" fill="#304a12"/><circle cx="647.3" cy="476.5" r="2.3" fill="#3d5c18"/><circle cx="625.2" cy="442.7" r="1.9" fill="#58802c"/><circle cx="644.2" cy="431.0" r="1.8" fill="#35501a"/><circle cx="658.2" cy="491.1" r="3.1" fill="#1f300a"/><circle cx="636.7" cy="449.8" r="3.0" fill="#4a6c20"/><circle cx="670.0" cy="462.4" r="1.8" fill="#263a0e"/><circle cx="661.2" cy="463.6" r="2.2" fill="#35501a"/><circle cx="624.0" cy="492.7" r="1.5" fill="#466a1e"/><circle cx="607.3" cy="472.4" r="2.2" fill="#466a1e"/><circle cx="618.0" cy="445.7" r="1.6" fill="#1f300a"/><circle cx="651.9" cy="461.8" r="2.0" fill="#2b4210"/><circle cx="651.9" cy="454.5" r="2.8" fill="#263a0e"/><circle cx="654.7" cy="440.1" r="3.1" fill="#263a0e"/><circle cx="657.5" cy="492.4" r="2.5" fill="#35501a"/><circle cx="648.1" cy="471.5" r="2.7" fill="#263a0e"/><circle cx="653.3" cy="451.9" r="1.5" fill="#3d5c18"/><circle cx="641.5" cy="451.0" r="3.0" fill="#3d5c18"/><circle cx="635.6" cy="480.2" r="1.5" fill="#466a1e"/><circle cx="606.9" cy="481.6" r="2.6" fill="#2b4210"/><circle cx="617.6" cy="461.2" r="1.7" fill="#4a6c20"/><circle cx="635.7" cy="482.3" r="3.1" fill="#58802c"/><circle cx="618.7" cy="460.9" r="2.3" fill="#4a6c20"/><circle cx="632.8" cy="496.8" r="3.2" fill="#2b4210"/><circle cx="668.1" cy="467.5" r="2.4" fill="#1f300a"/><circle cx="617.2" cy="462.7" r="2.3" fill="#263a0e"/><circle cx="621.8" cy="441.6" r="3.0" fill="#466a1e"/><circle cx="630.3" cy="482.2" r="1.9" fill="#1f300a"/><circle cx="652.2" cy="437.8" r="2.6" fill="#263a0e"/><circle cx="672.6" cy="462.1" r="2.9" fill="#2b4210"/><circle cx="665.4" cy="478.0" r="1.9" fill="#4a6c20"/><circle cx="665.2" cy="474.7" r="2.1" fill="#466a1e"/><circle cx="627.0" cy="446.1" r="1.9" fill="#58802c"/><circle cx="654.3" cy="469.6" r="2.0" fill="#2b4210"/><circle cx="634.1" cy="499.7" r="3.2" fill="#466a1e"/><circle cx="631.6" cy="475.3" r="3.0" fill="#1f300a"/><circle cx="630.6" cy="472.5" r="2.1" fill="#304a12"/><circle cx="631.6" cy="493.8" r="1.9" fill="#2b4210"/><circle cx="664.6" cy="482.2" r="1.7" fill="#2b4210"/><circle cx="620.1" cy="477.8" r="2.6" fill="#3d5c18"/><circle cx="613.7" cy="450.6" r="2.8" fill="#263a0e"/><circle cx="639.8" cy="433.6" r="2.3" fill="#58802c"/><circle cx="632.2" cy="435.4" r="1.6" fill="#466a1e"/><circle cx="615.2" cy="442.1" r="2.9" fill="#4a6c20"/><circle cx="663.7" cy="447.5" r="2.5" fill="#2b4210"/><circle cx="650.1" cy="439.4" r="3.0" fill="#1f300a"/><circle cx="647.7" cy="470.8" r="2.6" fill="#3d5c18"/><circle cx="618.9" cy="482.2" r="1.6" fill="#2b4210"/><circle cx="615.8" cy="442.9" r="2.3" fill="#2b4210"/><circle cx="623.8" cy="468.2" r="3.1" fill="#466a1e"/><circle cx="659.6" cy="479.3" r="2.8" fill="#304a12"/><circle cx="636.8" cy="478.4" r="2.0" fill="#1f300a"/><circle cx="640.6" cy="493.9" r="2.3" fill="#263a0e"/><circle cx="667.6" cy="480.5" r="2.0" fill="#2b4210"/><circle cx="615.1" cy="444.7" r="1.6" fill="#4a6c20"/><circle cx="622.4" cy="490.3" r="2.7" fill="#4a6c20"/><circle cx="650.2" cy="465.5" r="2.0" fill="#3d5c18"/><circle cx="626.3" cy="436.3" r="2.0" fill="#466a1e"/><circle cx="631.3" cy="489.5" r="2.8" fill="#466a1e"/><circle cx="648.2" cy="498.3" r="3.1" fill="#2b4210"/><circle cx="633.6" cy="478.0" r="2.4" fill="#304a12"/><circle cx="660.8" cy="463.6" r="3.1" fill="#1f300a"/><circle cx="650.0" cy="471.1" r="2.8" fill="#58802c"/><circle cx="652.5" cy="459.8" r="2.9" fill="#466a1e"/><circle cx="634.2" cy="479.7" r="2.1" fill="#304a12"/><circle cx="657.9" cy="448.8" r="1.5" fill="#2b4210"/><circle cx="665.8" cy="455.1" r="2.2" fill="#4a6c20"/><circle cx="616.7" cy="476.3" r="1.7" fill="#35501a"/><circle cx="668.6" cy="464.8" r="2.9" fill="#3d5c18"/><circle cx="654.1" cy="457.7" r="1.5" fill="#58802c"/><circle cx="636.7" cy="478.0" r="2.2" fill="#3d5c18"/><circle cx="621.1" cy="483.5" r="2.0" fill="#2b4210"/><circle cx="634.5" cy="477.1" r="2.6" fill="#4a6c20"/><circle cx="637.1" cy="485.0" r="2.4" fill="#1f300a"/><circle cx="641.7" cy="432.6" r="2.2" fill="#2b4210"/><circle cx="648.1" cy="437.4" r="3.1" fill="#466a1e"/><circle cx="607.5" cy="455.1" r="1.6" fill="#263a0e"/><circle cx="606.9" cy="474.1" r="2.6" fill="#58802c"/><circle cx="602.6" cy="467.6" r="2.4" fill="#4a6c20"/><circle cx="614.7" cy="468.4" r="2.0" fill="#58802c"/><circle cx="620.6" cy="475.5" r="2.3" fill="#263a0e"/><circle cx="658.5" cy="484.7" r="1.6" fill="#466a1e"/><circle cx="658.9" cy="449.8" r="1.9" fill="#35501a"/><circle cx="662.3" cy="463.9" r="1.7" fill="#1f300a"/><circle cx="637.7" cy="482.2" r="2.4" fill="#35501a"/><circle cx="638.4" cy="484.7" r="2.5" fill="#2b4210"/><circle cx="636.9" cy="440.1" r="2.2" fill="#466a1e"/><circle cx="642.1" cy="484.5" r="2.8" fill="#304a12"/><circle cx="630.9" cy="499.4" r="1.7" fill="#466a1e"/><circle cx="605.2" cy="458.6" r="2.9" fill="#3d5c18"/><circle cx="634.4" cy="484.3" r="2.2" fill="#304a12"/><circle cx="617.2" cy="473.6" r="2.9" fill="#2b4210"/><circle cx="654.2" cy="482.2" r="2.8" fill="#304a12"/><circle cx="662.7" cy="459.3" r="1.6" fill="#466a1e"/><circle cx="658.9" cy="436.5" r="1.9" fill="#3d5c18"/><circle cx="639.8" cy="481.2" r="3.2" fill="#3d5c18"/><circle cx="666.0" cy="453.3" r="2.6" fill="#304a12"/><circle cx="664.6" cy="480.8" r="1.5" fill="#4a6c20"/><circle cx="640.8" cy="498.9" r="2.6" fill="#58802c"/><circle cx="665.4" cy="457.7" r="2.4" fill="#263a0e"/><circle cx="632.1" cy="449.9" r="1.6" fill="#466a1e"/><circle cx="654.1" cy="458.2" r="1.9" fill="#2b4210"/><circle cx="658.5" cy="465.9" r="2.3" fill="#35501a"/><circle cx="616.1" cy="437.7" r="2.3" fill="#1f300a"/><circle cx="625.7" cy="461.1" r="2.2" fill="#58802c"/><circle cx="654.2" cy="470.7" r="3.0" fill="#263a0e"/><circle cx="653.9" cy="473.9" r="2.2" fill="#35501a"/><circle cx="638.7" cy="476.4" r="2.1" fill="#263a0e"/><circle cx="621.4" cy="482.8" r="1.5" fill="#58802c"/><circle cx="635.2" cy="438.0" r="1.8" fill="#1f300a"/><circle cx="624.6" cy="494.9" r="1.9" fill="#1f300a"/><circle cx="633.8" cy="498.5" r="1.7" fill="#304a12"/><circle cx="610.6" cy="442.7" r="2.3" fill="#2b4210"/><circle cx="652.8" cy="459.2" r="2.2" fill="#1f300a"/><circle cx="665.2" cy="468.7" r="2.2" fill="#2b4210"/><circle cx="647.2" cy="487.7" r="2.7" fill="#35501a"/><circle cx="633.1" cy="428.8" r="3.1" fill="#35501a"/><circle cx="647.8" cy="492.2" r="2.4" fill="#304a12"/><circle cx="666.3" cy="470.5" r="2.1" fill="#35501a"/><circle cx="662.0" cy="462.1" r="1.7" fill="#3d5c18"/><circle cx="632.7" cy="487.0" r="3.1" fill="#3d5c18"/><circle cx="607.6" cy="452.6" r="2.1" fill="#58802c"/><circle cx="647.9" cy="442.1" r="1.6" fill="#304a12"/><circle cx="646.2" cy="490.3" r="2.3" fill="#35501a"/><circle cx="614.5" cy="490.3" r="1.6" fill="#263a0e"/><circle cx="637.4" cy="493.6" r="2.2" fill="#263a0e"/><circle cx="650.0" cy="467.4" r="3.1" fill="#58802c"/><circle cx="641.5" cy="477.1" r="2.5" fill="#35501a"/><circle cx="632.1" cy="499.4" r="2.5" fill="#58802c"/><circle cx="636.3" cy="434.1" r="3.1" fill="#58802c"/><circle cx="668.7" cy="465.3" r="3.1" fill="#3d5c18"/><circle cx="656.3" cy="467.5" r="2.3" fill="#304a12"/><circle cx="659.8" cy="457.7" r="1.9" fill="#263a0e"/><circle cx="643.4" cy="449.6" r="2.3" fill="#2b4210"/><circle cx="647.2" cy="434.8" r="2.9" fill="#4a6c20"/><circle cx="619.6" cy="450.6" r="2.0" fill="#35501a"/><circle cx="643.0" cy="436.6" r="2.4" fill="#263a0e"/><circle cx="637.4" cy="444.5" r="1.6" fill="#2b4210"/><circle cx="609.7" cy="467.7" r="1.8" fill="#263a0e"/><circle cx="663.6" cy="440.6" r="2.0" fill="#3d5c18"/><circle cx="643.4" cy="488.3" r="3.2" fill="#304a12"/><circle cx="644.5" cy="478.8" r="2.3" fill="#1f300a"/><circle cx="636.6" cy="431.1" r="2.6" fill="#3d5c18"/><circle cx="641.0" cy="443.6" r="2.0" fill="#58802c"/><circle cx="615.1" cy="487.0" r="1.8" fill="#1f300a"/><circle cx="644.7" cy="482.5" r="2.0" fill="#1f300a"/><circle cx="625.9" cy="485.8" r="3.2" fill="#466a1e"/><circle cx="607.8" cy="459.6" r="1.7" fill="#304a12"/><circle cx="652.0" cy="463.6" r="2.3" fill="#1f300a"/><circle cx="655.6" cy="435.4" r="1.6" fill="#58802c"/><circle cx="638.4" cy="477.2" r="2.5" fill="#1f300a"/><circle cx="658.2" cy="454.6" r="3.0" fill="#304a12"/><circle cx="611.4" cy="445.2" r="2.6" fill="#2b4210"/><circle cx="659.5" cy="482.1" r="2.6" fill="#1f300a"/><circle cx="658.9" cy="469.8" r="1.6" fill="#58802c"/><circle cx="667.4" cy="471.9" r="3.1" fill="#2b4210"/><circle cx="647.2" cy="442.4" r="2.1" fill="#58802c"/><circle cx="647.5" cy="470.1" r="2.3" fill="#304a12"/><circle cx="650.8" cy="470.3" r="2.2" fill="#466a1e"/><circle cx="652.4" cy="487.0" r="2.6" fill="#263a0e"/><circle cx="628.8" cy="441.6" r="2.0" fill="#58802c"/><circle cx="625.8" cy="470.8" r="2.8" fill="#35501a"/><circle cx="627.4" cy="470.3" r="2.8" fill="#35501a"/><circle cx="622.3" cy="445.7" r="2.2" fill="#2b4210"/><circle cx="621.4" cy="471.3" r="1.7" fill="#3d5c18"/><circle cx="608.7" cy="483.4" r="2.3" fill="#4a6c20"/><circle cx="645.8" cy="473.9" r="1.7" fill="#263a0e"/><circle cx="661.6" cy="479.9" r="2.1" fill="#466a1e"/><circle cx="647.8" cy="484.6" r="1.8" fill="#4a6c20"/><circle cx="650.6" cy="457.6" r="2.3" fill="#1f300a"/><circle cx="626.4" cy="496.0" r="1.6" fill="#304a12"/><circle cx="625.6" cy="490.9" r="2.6" fill="#3d5c18"/><circle cx="660.9" cy="448.1" r="2.9" fill="#4a6c20"/><circle cx="615.7" cy="438.6" r="2.6" fill="#1f300a"/><circle cx="645.6" cy="448.7" r="1.9" fill="#263a0e"/><circle cx="652.8" cy="458.1" r="2.1" fill="#4a6c20"/><circle cx="637.6" cy="495.6" r="3.0" fill="#2b4210"/><circle cx="661.8" cy="442.3" r="2.6" fill="#35501a"/><circle cx="658.1" cy="483.8" r="2.4" fill="#58802c"/><circle cx="624.1" cy="447.0" r="1.9" fill="#263a0e"/><circle cx="623.3" cy="443.3" r="2.2" fill="#2b4210"/><circle cx="672.8" cy="465.3" r="2.3" fill="#304a12"/><circle cx="639.7" cy="432.5" r="2.3" fill="#4a6c20"/><circle cx="645.9" cy="442.1" r="1.6" fill="#35501a"/><circle cx="623.8" cy="470.7" r="2.3" fill="#466a1e"/><circle cx="630.2" cy="454.2" r="1.7" fill="#35501a"/><circle cx="641.6" cy="438.2" r="1.6" fill="#466a1e"/><circle cx="660.5" cy="446.3" r="2.8" fill="#2b4210"/><circle cx="659.4" cy="436.4" r="2.7" fill="#3d5c18"/><circle cx="649.4" cy="498.0" r="2.3" fill="#4a6c20"/><circle cx="624.9" cy="435.9" r="1.9" fill="#35501a"/><circle cx="621.5" cy="451.6" r="2.1" fill="#58802c"/><circle cx="658.1" cy="450.2" r="1.9" fill="#304a12"/><circle cx="642.3" cy="484.2" r="2.4" fill="#35501a"/><circle cx="624.2" cy="477.8" r="2.2" fill="#58802c"/><circle cx="622.4" cy="433.6" r="1.8" fill="#58802c"/><circle cx="657.3" cy="482.5" r="2.6" fill="#35501a"/><circle cx="661.8" cy="459.1" r="2.4" fill="#3d5c18"/><circle cx="636.7" cy="491.7" r="3.0" fill="#35501a"/><circle cx="633.7" cy="500.2" r="2.5" fill="#35501a"/><circle cx="630.1" cy="476.9" r="1.9" fill="#2b4210"/><circle cx="629.3" cy="490.2" r="2.0" fill="#35501a"/><circle cx="633.6" cy="433.1" r="1.9" fill="#58802c"/><circle cx="618.4" cy="447.9" r="2.4" fill="#2b4210"/><circle cx="650.1" cy="478.8" r="2.6" fill="#2b4210"/><circle cx="663.3" cy="473.9" r="2.0" fill="#466a1e"/><circle cx="625.0" cy="479.6" r="2.5" fill="#4a6c20"/><circle cx="645.3" cy="492.4" r="2.3" fill="#4a6c20"/><circle cx="669.4" cy="467.4" r="2.7" fill="#304a12"/><circle cx="661.2" cy="481.2" r="3.0" fill="#58802c"/><circle cx="620.3" cy="476.3" r="1.5" fill="#466a1e"/><circle cx="659.3" cy="446.7" r="2.5" fill="#466a1e"/><circle cx="634.9" cy="444.6" r="3.0" fill="#2b4210"/><circle cx="647.7" cy="468.9" r="1.8" fill="#4a6c20"/><circle cx="667.0" cy="476.0" r="1.5" fill="#466a1e"/><circle cx="626.8" cy="449.2" r="2.2" fill="#466a1e"/><circle cx="616.3" cy="447.8" r="2.6" fill="#4a6c20"/><circle cx="623.6" cy="463.8" r="2.6" fill="#304a12"/><circle cx="634.7" cy="454.2" r="2.9" fill="#304a12"/><circle cx="663.0" cy="478.9" r="1.8" fill="#3d5c18"/><circle cx="634.9" cy="493.9" r="1.7" fill="#58802c"/><circle cx="632.1" cy="444.6" r="2.4" fill="#263a0e"/><circle cx="623.4" cy="432.7" r="3.2" fill="#58802c"/><circle cx="614.8" cy="436.9" r="1.9" fill="#466a1e"/><circle cx="657.3" cy="466.4" r="1.9" fill="#1f300a"/><circle cx="666.6" cy="453.8" r="2.1" fill="#263a0e"/><circle cx="627.7" cy="481.9" r="3.0" fill="#466a1e"/><circle cx="604.4" cy="470.8" r="2.7" fill="#2b4210"/><circle cx="608.3" cy="476.5" r="2.5" fill="#58802c"/><circle cx="642.8" cy="441.3" r="2.5" fill="#4a6c20"/><circle cx="644.2" cy="473.7" r="1.7" fill="#4a6c20"/><circle cx="627.7" cy="478.2" r="1.5" fill="#2b4210"/><circle cx="656.0" cy="487.0" r="1.6" fill="#3d5c18"/><circle cx="635.9" cy="451.1" r="2.5" fill="#35501a"/><circle cx="648.0" cy="498.0" r="2.4" fill="#3d5c18"/><circle cx="660.1" cy="442.8" r="2.7" fill="#263a0e"/><circle cx="651.6" cy="476.1" r="1.7" fill="#2b4210"/><circle cx="669.8" cy="453.7" r="2.8" fill="#3d5c18"/><circle cx="650.3" cy="438.4" r="2.0" fill="#3d5c18"/><circle cx="658.8" cy="488.5" r="2.6" fill="#58802c"/><circle cx="626.6" cy="486.9" r="1.5" fill="#58802c"/><circle cx="648.5" cy="459.1" r="2.8" fill="#35501a"/><circle cx="640.5" cy="436.0" r="2.3" fill="#58802c"/><circle cx="628.3" cy="456.5" r="2.2" fill="#263a0e"/><circle cx="622.2" cy="462.8" r="2.3" fill="#2b4210"/><circle cx="618.5" cy="460.0" r="3.0" fill="#3d5c18"/><circle cx="618.2" cy="455.0" r="2.2" fill="#466a1e"/><circle cx="646.4" cy="494.9" r="3.2" fill="#2b4210"/><circle cx="628.5" cy="476.6" r="2.7" fill="#4a6c20"/><circle cx="664.9" cy="458.7" r="3.1" fill="#466a1e"/><circle cx="634.7" cy="499.5" r="2.0" fill="#1f300a"/><circle cx="655.0" cy="457.1" r="1.8" fill="#3d5c18"/><circle cx="601.2" cy="466.7" r="2.5" fill="#3d5c18"/><circle cx="621.1" cy="448.0" r="2.2" fill="#263a0e"/><circle cx="661.5" cy="444.7" r="2.2" fill="#2b4210"/><circle cx="622.0" cy="480.0" r="2.2" fill="#466a1e"/><circle cx="613.4" cy="464.3" r="3.0" fill="#1f300a"/><circle cx="652.0" cy="459.0" r="2.5" fill="#2b4210"/><circle cx="624.1" cy="482.6" r="1.8" fill="#304a12"/><circle cx="620.5" cy="437.7" r="1.8" fill="#304a12"/><circle cx="629.4" cy="445.7" r="1.9" fill="#35501a"/><circle cx="603.9" cy="472.5" r="1.9" fill="#1f300a"/><circle cx="633.5" cy="496.0" r="2.9" fill="#4a6c20"/><circle cx="631.1" cy="429.4" r="2.7" fill="#466a1e"/><circle cx="625.6" cy="480.5" r="3.1" fill="#58802c"/><circle cx="667.8" cy="459.7" r="1.7" fill="#3d5c18"/><circle cx="642.7" cy="480.4" r="1.8" fill="#58802c"/><circle cx="634.4" cy="439.7" r="1.8" fill="#3d5c18"/><circle cx="630.5" cy="497.9" r="2.3" fill="#2b4210"/><circle cx="610.9" cy="483.7" r="2.7" fill="#466a1e"/><circle cx="658.2" cy="461.9" r="1.5" fill="#58802c"/><circle cx="617.7" cy="449.8" r="2.8" fill="#263a0e"/><circle cx="628.4" cy="437.5" r="2.6" fill="#1f300a"/><circle cx="622.4" cy="438.7" r="3.0" fill="#1f300a"/><circle cx="624.4" cy="437.9" r="2.3" fill="#35501a"/><circle cx="635.1" cy="495.1" r="3.0" fill="#1f300a"/><circle cx="643.2" cy="434.3" r="2.6" fill="#58802c"/><circle cx="652.2" cy="443.4" r="1.5" fill="#263a0e"/><circle cx="607.3" cy="461.1" r="3.0" fill="#35501a"/><circle cx="641.2" cy="441.1" r="2.3" fill="#3d5c18"/><circle cx="663.6" cy="471.0" r="1.8" fill="#1f300a"/><circle cx="622.1" cy="462.7" r="2.5" fill="#466a1e"/><circle cx="644.2" cy="489.4" r="1.5" fill="#35501a"/><circle cx="612.9" cy="461.2" r="3.1" fill="#1f300a"/><circle cx="654.9" cy="463.4" r="2.4" fill="#3d5c18"/><circle cx="633.2" cy="435.8" r="2.6" fill="#58802c"/><circle cx="633.3" cy="488.3" r="1.5" fill="#263a0e"/><circle cx="662.2" cy="449.7" r="2.6" fill="#58802c"/><circle cx="653.7" cy="478.2" r="2.2" fill="#466a1e"/><circle cx="672.3" cy="458.1" r="3.1" fill="#304a12"/><circle cx="640.8" cy="480.1" r="2.8" fill="#1f300a"/><circle cx="609.7" cy="469.9" r="1.9" fill="#4a6c20"/><circle cx="619.2" cy="488.0" r="2.9" fill="#263a0e"/><circle cx="616.1" cy="468.7" r="2.4" fill="#4a6c20"/><circle cx="641.8" cy="439.2" r="2.8" fill="#1f300a"/><circle cx="634.4" cy="487.9" r="1.9" fill="#263a0e"/><circle cx="625.7" cy="441.0" r="2.9" fill="#58802c"/><circle cx="618.3" cy="487.6" r="2.0" fill="#304a12"/><circle cx="610.5" cy="477.3" r="2.6" fill="#35501a"/><circle cx="649.4" cy="482.2" r="2.2" fill="#3d5c18"/><circle cx="653.2" cy="434.1" r="2.8" fill="#4a6c20"/><circle cx="614.7" cy="460.2" r="2.5" fill="#2b4210"/><circle cx="640.4" cy="477.8" r="2.0" fill="#3d5c18"/><circle cx="607.5" cy="448.6" r="1.8" fill="#304a12"/><circle cx="627.4" cy="478.4" r="3.0" fill="#466a1e"/><circle cx="653.8" cy="494.2" r="2.5" fill="#3d5c18"/><circle cx="620.2" cy="434.7" r="2.8" fill="#58802c"/><circle cx="646.9" cy="493.3" r="2.4" fill="#304a12"/><circle cx="629.6" cy="450.8" r="1.7" fill="#263a0e"/><circle cx="638.6" cy="480.8" r="2.3" fill="#2b4210"/><circle cx="602.8" cy="467.9" r="2.7" fill="#1f300a"/><circle cx="609.7" cy="464.8" r="3.0" fill="#2b4210"/><circle cx="648.8" cy="483.1" r="2.7" fill="#304a12"/><circle cx="620.1" cy="435.8" r="2.1" fill="#263a0e"/><circle cx="667.2" cy="464.5" r="1.8" fill="#35501a"/><circle cx="629.3" cy="455.6" r="2.5" fill="#35501a"/><circle cx="642.3" cy="450.8" r="2.3" fill="#4a6c20"/><circle cx="667.3" cy="471.0" r="2.6" fill="#35501a"/><circle cx="661.7" cy="481.2" r="2.1" fill="#466a1e"/><circle cx="604.5" cy="453.0" r="2.0" fill="#35501a"/><circle cx="612.6" cy="477.5" r="2.9" fill="#58802c"/><circle cx="620.8" cy="485.3" r="2.1" fill="#58802c"/><circle cx="652.8" cy="448.3" r="1.8" fill="#304a12"/><circle cx="642.8" cy="443.0" r="2.0" fill="#58802c"/><circle cx="661.7" cy="490.0" r="1.6" fill="#2b4210"/><circle cx="614.7" cy="480.9" r="2.2" fill="#2b4210"/><circle cx="624.7" cy="473.6" r="1.6" fill="#304a12"/><circle cx="613.9" cy="445.7" r="2.8" fill="#466a1e"/><circle cx="614.9" cy="445.8" r="2.6" fill="#3d5c18"/><circle cx="644.0" cy="493.7" r="2.3" fill="#4a6c20"/><circle cx="651.4" cy="475.1" r="1.6" fill="#3d5c18"/><circle cx="662.5" cy="449.2" r="2.1" fill="#4a6c20"/><circle cx="643.3" cy="437.4" r="1.9" fill="#58802c"/><circle cx="641.8" cy="475.5" r="1.5" fill="#2b4210"/><circle cx="610.1" cy="464.9" r="2.9" fill="#263a0e"/><circle cx="606.2" cy="448.7" r="2.3" fill="#2b4210"/><circle cx="624.9" cy="438.7" r="3.2" fill="#4a6c20"/><circle cx="612.9" cy="468.2" r="1.7" fill="#304a12"/><circle cx="641.0" cy="480.9" r="1.5" fill="#2b4210"/><circle cx="667.0" cy="466.3" r="3.2" fill="#3d5c18"/><circle cx="640.1" cy="479.9" r="2.3" fill="#58802c"/><circle cx="633.2" cy="445.1" r="2.7" fill="#4a6c20"/><circle cx="657.6" cy="453.7" r="2.8" fill="#4a6c20"/><circle cx="635.2" cy="450.3" r="2.6" fill="#304a12"/><circle cx="603.2" cy="473.0" r="1.9" fill="#2b4210"/><circle cx="634.8" cy="453.9" r="1.5" fill="#3d5c18"/><circle cx="620.3" cy="478.5" r="2.5" fill="#304a12"/><circle cx="620.0" cy="450.6" r="3.1" fill="#304a12"/><circle cx="619.9" cy="467.8" r="3.1" fill="#3d5c18"/><circle cx="617.7" cy="486.9" r="2.6" fill="#263a0e"/><circle cx="605.2" cy="469.1" r="2.3" fill="#58802c"/><circle cx="643.0" cy="437.2" r="2.0" fill="#2b4210"/><circle cx="615.6" cy="443.9" r="2.9" fill="#35501a"/><circle cx="658.2" cy="441.7" r="1.5" fill="#4a6c20"/><circle cx="619.5" cy="451.6" r="2.2" fill="#1f300a"/><circle cx="615.3" cy="485.7" r="2.5" fill="#1f300a"/><circle cx="644.4" cy="444.8" r="1.5" fill="#58802c"/><circle cx="635.1" cy="481.5" r="3.1" fill="#2b4210"/><circle cx="633.1" cy="480.5" r="3.0" fill="#4a6c20"/><circle cx="632.0" cy="497.6" r="2.9" fill="#304a12"/><circle cx="628.8" cy="476.3" r="2.4" fill="#263a0e"/><circle cx="646.7" cy="494.6" r="3.1" fill="#1f300a"/><circle cx="632.2" cy="476.7" r="2.2" fill="#1f300a"/><circle cx="662.3" cy="451.8" r="1.5" fill="#263a0e"/><circle cx="623.0" cy="468.1" r="2.9" fill="#3d5c18"/><circle cx="640.0" cy="492.5" r="3.0" fill="#466a1e"/><circle cx="625.5" cy="488.5" r="1.8" fill="#1f300a"/><circle cx="643.3" cy="481.2" r="2.7" fill="#35501a"/><circle cx="616.6" cy="453.7" r="2.8" fill="#4a6c20"/><circle cx="637.8" cy="499.2" r="2.3" fill="#3d5c18"/><circle cx="621.7" cy="480.4" r="0.7" fill="#e8f0e0"/><circle cx="652.9" cy="473.4" r="0.7" fill="#e8f0e0"/><circle cx="654.0" cy="467.8" r="0.7" fill="#e8f0e0"/><circle cx="627.3" cy="456.7" r="0.7" fill="#e8f0e0"/><circle cx="646.2" cy="495.8" r="0.7" fill="#e8f0e0"/><circle cx="613.9" cy="454.4" r="0.7" fill="#e8f0e0"/><circle cx="644.7" cy="497.7" r="0.7" fill="#e8f0e0"/><circle cx="634.7" cy="476.8" r="0.7" fill="#e8f0e0"/><circle cx="613.0" cy="472.8" r="0.7" fill="#e8f0e0"/><circle cx="626.6" cy="456.0" r="0.7" fill="#e8f0e0"/><circle cx="647.4" cy="448.9" r="0.7" fill="#e8f0e0"/><circle cx="656.8" cy="463.8" r="0.7" fill="#e8f0e0"/><circle cx="647.7" cy="466.4" r="0.7" fill="#e8f0e0"/><circle cx="617.6" cy="485.2" r="0.7" fill="#e8f0e0"/><circle cx="605.1" cy="467.1" r="0.7" fill="#e8f0e0"/><circle cx="662.6" cy="444.6" r="0.7" fill="#e8f0e0"/><circle cx="615.3" cy="438.3" r="0.7" fill="#e8f0e0"/><circle cx="633.7" cy="452.6" r="0.7" fill="#e8f0e0"/><circle cx="630.3" cy="479.1" r="0.7" fill="#e8f0e0"/><circle cx="665.7" cy="482.6" r="0.7" fill="#e8f0e0"/><circle cx="622.3" cy="463.9" r="0.7" fill="#e8f0e0"/><circle cx="648.5" cy="448.6" r="0.7" fill="#e8f0e0"/><circle cx="639.7" cy="493.1" r="0.7" fill="#e8f0e0"/><circle cx="653.2" cy="494.9" r="0.7" fill="#e8f0e0"/><circle cx="647.8" cy="460.3" r="0.7" fill="#e8f0e0"/><circle cx="626.9" cy="461.0" r="0.7" fill="#e8f0e0"/><circle cx="651.6" cy="456.4" r="0.7" fill="#e8f0e0"/><circle cx="607.9" cy="462.1" r="0.7" fill="#e8f0e0"/><circle cx="638.7" cy="442.0" r="0.7" fill="#e8f0e0"/><circle cx="651.7" cy="475.3" r="0.7" fill="#e8f0e0"/><circle cx="652.2" cy="465.1" r="0.7" fill="#e8f0e0"/><circle cx="636.7" cy="439.2" r="0.7" fill="#e8f0e0"/><circle cx="611.8" cy="474.2" r="0.7" fill="#e8f0e0"/><circle cx="617.7" cy="468.1" r="0.7" fill="#e8f0e0"/><circle cx="621.8" cy="477.1" r="0.7" fill="#e8f0e0"/><circle cx="621.4" cy="479.2" r="0.7" fill="#e8f0e0"/><circle cx="648.9" cy="432.9" r="0.7" fill="#e8f0e0"/><circle cx="654.3" cy="450.6" r="0.7" fill="#e8f0e0"/><circle cx="663.2" cy="448.4" r="0.7" fill="#e8f0e0"/><circle cx="654.5" cy="490.9" r="0.7" fill="#e8f0e0"/><filter id="bl" x="-30%" y="-30%" width="160%" height="160%"><feGaussianBlur stdDeviation="1.3"/></filter><polygon points="652.3889324491463,465.0 647.8026005395733,467.5797448167962 652.1457543202031,472.53459817270806 646.0738716069286,472.63490783510235 648.5904496604584,480.1609443387223 642.2662149006159,476.97366861836315 640.9792795187935,484.62500584414033 636.5,475.4253957212809 633.0267417985956,480.2173384614161 632.6489476549906,472.99679259373204 623.8047772711084,480.91930577982413 628.5934728425178,471.3052450065681 621.4813811875365,472.2325856296277 627.6495537748175,467.0200565963388 619.1698396003706,465.0 626.5948344129175,462.73921059199455 619.2191340289885,456.67797355734615 629.149847165465,459.13844871023974 625.4287611727862,451.11710562188244 630.882687340971,453.33553007228966 632.5625243093955,447.7487918280021 636.5,455.7530400579275 640.4144358669062,447.8497358911784 640.7233309709146,456.2301628740892 646.2433376365123,452.78224104735733 645.3776587703262,457.92030337508635 651.8009337770781,457.6314586489044 648.7068014970574,462.21387721512076" fill="#f6f9f0" filter="url(#bl)"/><circle cx="636.5" cy="465" r="9.5" fill="#ffffff"/><circle cx="636.7" cy="465" r="3.6" fill="#000"/><g transform="translate(680.2 419.8) rotate(-62)"><path d="M-11,0 C-6.050000000000001,-10.530000000000001 6.050000000000001,-10.530000000000001 11,0 C6.050000000000001,10.530000000000001 -6.050000000000001,10.530000000000001 -11,0 Z" fill="#3b6a38" stroke="#162e14" stroke-width="0.9"/><line x1="-8.8" y1="0" x2="8.8" y2="0" stroke="#7aa870" stroke-width="0.6"/></g><g transform="translate(662.6 424.2) rotate(10)"><path d="M-10,0 C-5.5,-9.18 5.5,-9.18 10,0 C5.5,9.18 -5.5,9.18 -10,0 Z" fill="#3b6a38" stroke="#162e14" stroke-width="0.9"/><line x1="-8.0" y1="0" x2="8.0" y2="0" stroke="#7aa870" stroke-width="0.6"/></g><g transform="translate(686 433.7) rotate(15)"><path d="M-9.5,0 C-5.2250000000000005,-9.450000000000001 5.2250000000000005,-9.450000000000001 9.5,0 C5.2250000000000005,9.450000000000001 -5.2250000000000005,9.450000000000001 -9.5,0 Z" fill="#3b6a38" stroke="#162e14" stroke-width="0.9"/><line x1="-7.6000000000000005" y1="0" x2="7.6000000000000005" y2="0" stroke="#7aa870" stroke-width="0.6"/></g><g transform="translate(679.4 443.2) rotate(61)"><path d="M-12.5,0 C-6.875000000000001,-11.475000000000001 6.875000000000001,-11.475000000000001 12.5,0 C6.875000000000001,11.475000000000001 -6.875000000000001,11.475000000000001 -12.5,0 Z" fill="#3b6a38" stroke="#162e14" stroke-width="0.9"/><line x1="-10.0" y1="0" x2="10.0" y2="0" stroke="#7aa870" stroke-width="0.6"/></g></g>
<text x="314" y="121.7" font-size="23.6" class="b">LEVEL TWO</text>
<text x="899" y="67" font-size="15.5" class="b" text-anchor="middle">88 FREEMAN RD,</text>
<text x="899" y="85" font-size="15.5" class="b" text-anchor="middle">DURACK</text>
<defs><linearGradient id="lg" x1="0" y1="0" x2="0" y2="1"><stop offset="0" stop-color="#5fbd4c"/><stop offset="1" stop-color="#55b244"/></linearGradient><linearGradient id="rg" x1="0" y1="0" x2="0" y2="1"><stop offset="0" stop-color="#b8e0b0"/><stop offset="1" stop-color="#ffffff" stop-opacity="0"/></linearGradient></defs>
<rect x="877.3" y="107.6" width="43.2" height="43.2" fill="url(#lg)"/>
<rect x="877.3" y="150.8" width="43.2" height="7" fill="url(#rg)"/>
<g stroke="#eaf7e4" stroke-width="1.3" fill="none" stroke-linejoin="round">
<circle cx="899.2" cy="129.2" r="12.5"/>
<path d="M878.6,138.6 L884,133 L890.5,112.6 L918.8,118.2 L910.2,121.8 M884,133 L886.5,136 M890.5,112.6 L908.9,149.5"/>
</g>
<g font-size="10.5">
<text x="843" y="438.6">INT:</text><text x="945" y="438.6" text-anchor="end">618 sqm</text>
<text x="843" y="451.3">EXT:</text><text x="945" y="451.3" text-anchor="end">119 sqm</text>
<text x="843" y="464" class="b">TOTAL:</text><text x="945" y="464" class="b" text-anchor="end">737 sqm</text>
</g>
</svg>
<div style="position:absolute;left:827.4px;top:502px;width:142.6px;font-family:'Liberation Sans',sans-serif;font-size:8.7px;line-height:10.74px;color:#151515"><div style="text-align:justify;text-align-last:justify;white-space:nowrap;">This floor plan is not to scale. Areas</div><div style="text-align:justify;text-align-last:justify;white-space:nowrap;">and dimensions are approximate</div><div style="text-align:justify;text-align-last:justify;white-space:nowrap;">and therefore plan should only be</div><div style="text-align:justify;text-align-last:justify;white-space:nowrap;">used for illustrative purposes. Plants</div><div>are decorative only.</div><div style="font-weight:bold;white-space:nowrap">PLAN BY WIDEANGLES.COM.AU</div></div>
</body></html>
